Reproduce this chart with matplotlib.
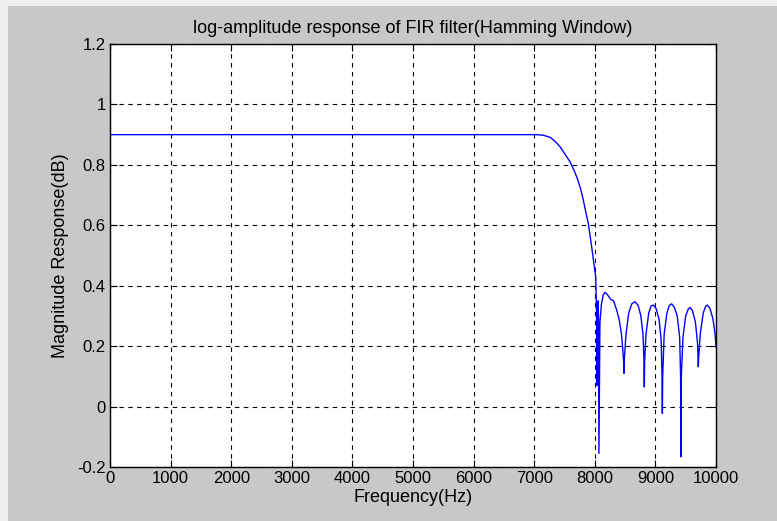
import matplotlib
matplotlib.use("Agg")
import matplotlib.pyplot as plt
from matplotlib.patches import Rectangle

# Frequency (Hz) and log-amplitude values
freq = [0, 1000, 2000, 3000, 4000, 5000, 6000, 7000, 7040, 7150, 7264, 7350, 7426,
        7510, 7591, 7650, 7700, 7760, 7811, 7850, 7893, 7948, 7992, 8015,
        8030, 8036, 8045, 8055, 8062, 8068, 8085, 8110, 8140, 8170, 8210,
        8260, 8310, 8360, 8400, 8440, 8465, 8478, 8482, 8488, 8515, 8560,
        8610, 8663, 8715, 8760, 8795, 8812, 8817, 8822, 8845, 8890, 8930,
        8966, 9010, 9060, 9095, 9110, 9115, 9120, 9145, 9190, 9230, 9268,
        9310, 9360, 9400, 9416, 9422, 9428, 9455, 9500, 9540, 9571, 9610,
        9660, 9695, 9704, 9708, 9713, 9740, 9790, 9830, 9857, 9900, 9950,
        9985, 10000]
mag = [0.9, 0.9, 0.9, 0.9, 0.9, 0.9, 0.9, 0.9, 0.9, 0.898, 0.891, 0.877, 0.86,
       0.835, 0.81, 0.785, 0.761, 0.725, 0.683, 0.645, 0.606, 0.529, 0.463, 0.43,
       0.30, 0.07, 0.33, 0.35, 0.28, -0.155, 0.28, 0.34, 0.37, 0.378, 0.37,
       0.355, 0.35, 0.32, 0.29, 0.24, 0.18, 0.14, 0.11, 0.16, 0.24, 0.31,
       0.34, 0.347, 0.335, 0.30, 0.24, 0.15, 0.065, 0.15, 0.24, 0.31, 0.333,
       0.336, 0.325, 0.29, 0.22, 0.10, -0.023, 0.10, 0.24, 0.31, 0.335, 0.34,
       0.33, 0.30, 0.23, 0.10, -0.166, 0.10, 0.23, 0.30, 0.322, 0.328, 0.318,
       0.28, 0.21, 0.16, 0.132, 0.16, 0.24, 0.31, 0.332, 0.336, 0.325, 0.29,
       0.24, 0.198]

xticks = [0, 1000, 2000, 3000, 4000, 5000, 6000, 7000, 8000, 9000, 10000]
yticks = [-0.2, 0, 0.2, 0.4, 0.6, 0.8, 1, 1.2]
ytick_labels = ["-0.2", "0", "0.2", "0.4", "0.6", "0.8", "1", "1.2"]

plt.rcParams['font.family'] = ['Liberation Sans', 'DejaVu Sans']

fig = plt.figure(figsize=(7.77, 5.21), dpi=100, facecolor='#c8c8c8')
# light border strips at top and left like the screenshot
fig.patches.append(Rectangle((0, 1 - 6/521), 1, 6/521, transform=fig.transFigure,
                             facecolor='#f0f0f0', edgecolor='none', zorder=-1))
fig.patches.append(Rectangle((0, 0), 8/777, 1, transform=fig.transFigure,
                             facecolor='#f0f0f0', edgecolor='none', zorder=-1))

ax = fig.add_axes([110/777, 1 - 467/521, 606/777, 423/521])
ax.set_facecolor('white')
ax.plot(freq, mag, color='#0000ff', linewidth=1.0)

ax.set_xlim(0, 10000)
ax.set_ylim(-0.2, 1.2)
ax.set_xticks(xticks)
ax.set_xticklabels([str(t) for t in xticks])
ax.set_yticks(yticks)
ax.set_yticklabels(ytick_labels)
ax.tick_params(direction='in', top=True, right=True, length=5, width=0.8,
               labelsize=12, pad=3, colors='black')
ax.grid(True, color='black', linestyle=(0, (4, 4)), linewidth=0.8)
for s in ax.spines.values():
    s.set_color('black')
    s.set_linewidth(1.0)

ax.set_title('log-amplitude response of FIR filter(Hamming Window)', fontsize=13, pad=8)
ax.set_xlabel('Frequency(Hz)', fontsize=13, labelpad=2)
ax.set_ylabel('Magnitude Response(dB)', fontsize=13, labelpad=6)

fig.savefig('out.png', dpi=100, facecolor=fig.get_facecolor())
